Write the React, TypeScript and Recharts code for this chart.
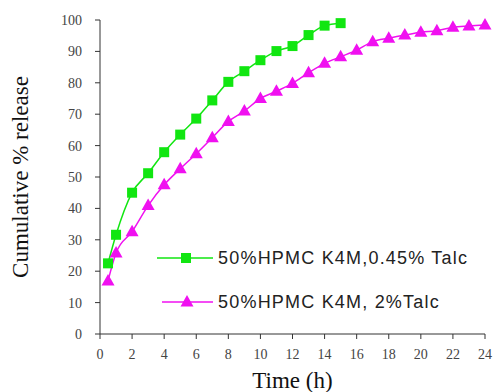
import React from "react";
import { LineChart, Line, XAxis, YAxis } from "recharts";

const timeA = [0.5, 1, 2, 3, 4, 5, 6, 7, 8, 9, 10, 11, 12, 13, 14, 15];
const releaseA = [22.5, 31.6, 45, 51.2, 57.9, 63.5, 68.6, 74.4, 80.3, 83.7, 87.2, 90.1, 91.7, 95.2, 98.2, 99];
const timeB = [0.5, 1, 2, 3, 4, 5, 6, 7, 8, 9, 10, 11, 12, 13, 14, 15, 16, 17, 18, 19, 20, 21, 22, 23, 24];
const releaseB = [16.9, 25.8, 32.6, 40.9, 47.5, 52.6, 57.4, 62.5, 67.7, 71, 75, 77.3, 79.8, 83.2, 86.2, 88.3, 90.4, 93.1, 94.2, 95.2, 96.1, 96.6, 97.7, 98.1, 98.4];
const seriesNames = ["50%HPMC K4M,0.45% Talc", "50%HPMC K4M, 2%Talc"];
const xTicks = [0, 2, 4, 6, 8, 10, 12, 14, 16, 18, 20, 22, 24];
const yTicks = [0, 10, 20, 30, 40, 50, 60, 70, 80, 90, 100];

const dataA = timeA.map((t, i) => ({ t, v: releaseA[i] }));
const dataB = timeB.map((t, i) => ({ t, v: releaseB[i] }));

const GREEN = "#11e611";
const PINK = "#f010f0";

const Square = (props: any) => {
  const { cx, cy } = props;
  if (cx == null || cy == null) return null;
  return <rect x={cx - 5} y={cy - 5} width={10} height={10} fill={GREEN} />;
};

const Triangle = (props: any) => {
  const { cx, cy } = props;
  if (cx == null || cy == null) return null;
  return (
    <polygon
      points={`${cx},${cy - 7} ${cx + 6.5},${cy + 4.5} ${cx - 6.5},${cy + 4.5}`}
      fill={PINK}
    />
  );
};

const legendFont = "'Liberation Sans', Arial, sans-serif";

const LegendBox = () => (
  <svg width={330} height={80} style={{ position: "absolute", left: 150, top: 240 }}>
    <line x1={7} y1={18} x2={63} y2={18} stroke={GREEN} strokeWidth={1.5} />
    <rect x={31} y={13} width={10} height={10} fill={GREEN} />
    <text x={68} y={18} dy="0.35em" fontFamily={legendFont} fontSize={18} letterSpacing={1.2} fill="#222">
      {seriesNames[0]}
    </text>
    <line x1={12} y1={62} x2={63} y2={62} stroke={PINK} strokeWidth={1.5} />
    <polygon points="37,55 43.5,66.5 30.5,66.5" fill={PINK} />
    <text x={68} y={62} dy="0.35em" fontFamily={legendFont} fontSize={18} letterSpacing={1.2} fill="#222">
      {seriesNames[1]}
    </text>
  </svg>
);

const YTitle = (props: any) => {
  const vb = props.viewBox || {};
  const cy = (vb.y ?? 20) + (vb.height ?? 314) / 2;
  return (
    <text
      x={28}
      y={cy}
      transform={`rotate(-90, 28, ${cy})`}
      textAnchor="middle"
      fontFamily="'Liberation Serif', 'Times New Roman', serif"
      fontSize={23}
      fill="#111"
    >
      Cumulative % release
    </text>
  );
};

export default function App() {
  const tickStyle = { fontFamily: "'Liberation Serif', 'Times New Roman', serif", fontSize: 14, fill: "#444" };
  return (
    <div style={{ position: "absolute", left: 0, top: 0, background: "#fff", width: 494, height: 392, overflow: "hidden" }}>
      <LineChart width={494} height={392} margin={{ top: 20, right: 9, bottom: 0, left: 0 }}>
        <XAxis
          type="number"
          dataKey="t"
          domain={[0, 24]}
          ticks={xTicks}
          allowDuplicatedCategory={false}
          height={58}
          tickSize={5}
          tickMargin={10}
          tick={tickStyle}
          stroke="#333"
          tickLine={{ stroke: "#333" }}
          label={{
            value: "Time (h)",
            position: "insideBottom",
            offset: 4,
            style: { fontFamily: "'Liberation Serif', 'Times New Roman', serif", fontSize: 23, fill: "#111" },
          }}
        />
        <YAxis
          type="number"
          domain={[0, 100]}
          ticks={yTicks}
          width={100}
          tickSize={5}
          tickMargin={13}
          tick={tickStyle}
          stroke="#333"
          tickLine={{ stroke: "#333" }}
          label={{ content: YTitle }}
        />
        <Line
          data={dataA}
          dataKey="v"
          name={seriesNames[0]}
          type="monotone"
          stroke={GREEN}
          strokeWidth={1.5}
          dot={<Square />}
          activeDot={false}
          isAnimationActive={false}
        />
        <Line
          data={dataB}
          dataKey="v"
          name={seriesNames[1]}
          type="monotone"
          stroke={PINK}
          strokeWidth={1.5}
          dot={<Triangle />}
          activeDot={false}
          isAnimationActive={false}
        />
      </LineChart>
      <LegendBox />
    </div>
  );
}
